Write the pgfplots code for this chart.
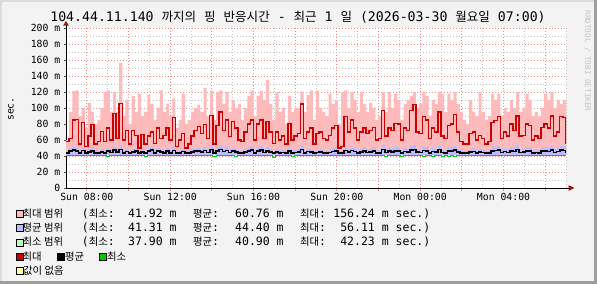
\documentclass[border=0pt]{standalone}
\usepackage{fontspec}
\setmainfont{DejaVu Sans Mono}
\newfontfamily\kr[Scale=0.9]{Noto Sans CJK KR}
\newfontfamily\krt[Scale=0.95]{Noto Sans CJK KR}
\usepackage{pgfplots}
\pgfplotsset{compat=1.18}
\usepackage{pgfplotstable}
\definecolor{bgc}{HTML}{F3F3F3}
\definecolor{shadea}{HTML}{DCDCDC}
\definecolor{shadeb}{HTML}{9E9E9E}
\definecolor{gridred}{HTML}{F08C8C}
\definecolor{gridgrey}{HTML}{C4C4C4}
\definecolor{pinkc}{HTML}{FFBBBB}
\definecolor{bluec}{HTML}{BBBBFF}
\definecolor{greenc}{HTML}{BBFFBB}
\definecolor{redl}{HTML}{CC0000}
\definecolor{greenl}{HTML}{00CC00}
\definecolor{yelc}{HTML}{FFFFA0}
\definecolor{arrowred}{HTML}{901818}
\definecolor{credit}{HTML}{C4C4C4}

\pgfplotstableread{
h pink red blue black green
0.00 60 58 46 43.5 40.9
0.15 95 62 50 46 40.9
0.30 121 85 52 47.5 40.9
0.45 122 86 50 46 40.9
0.60 90 55 47 44 40.9
0.75 100 82 51 47 40.9
0.90 75 52 47 44 40.9
1.05 106 65 49 45 40.9
1.20 95 79 51 46.5 40.9
1.35 80 55 47 44 40.9
1.50 85 58 46 43.5 40.9
1.65 100 71 49 45 40.9
1.80 120 58 47 44 40.9
1.95 122 75 50 46 40.0
2.10 95 60 48 44.5 40.9
2.25 120 93 52 47.5 40.9
2.40 95 62 49 45 40.9
2.55 156 106 53 48 40.9
2.70 90 60 47 44 40.9
2.85 110 72 49 45.5 40.9
3.00 80 55 46 43.5 40.9
3.15 115 72 49 45 40.9
3.30 95 66 50 46 40.9
3.45 118 50 46 43.5 40.9
3.60 90 67 49 45 40.9
3.75 95 55 47 44 39.8
3.90 116 65 50 46 40.9
4.05 105 70 52 47.5 40.9
4.20 85 56 47 44 40.9
4.35 100 75 50 46 40.9
4.50 122 62 49 45 40.9
4.65 95 66 47 44 40.9
4.80 105 75 50 46 40.9
4.95 90 60 47 44 40.9
5.10 112 88 52 47 40.9
5.25 75 52 46 43.5 40.9
5.40 85 60 47 44 40.9
5.55 118 68 49 45.5 40.9
5.70 80 50 46 43.5 40.9
5.85 85 55 47 44 40.9
6.00 95 65 49 45 40.9
6.15 100 72 50 46 40.9
6.30 104 77 51 46.5 40.9
6.45 95 68 49 45 40.9
6.60 125 79 52 47 40.9
6.75 90 62 48 44.5 40.9
6.90 122 91 54 48 40.9
7.05 85 55 47 44 39.5
7.20 120 78 51 46 40.9
7.35 122 95 54 48 40.9
7.50 105 72 50 45.5 40.9
7.65 120 85 52 47 40.9
7.80 95 64 48 44.5 40.9
7.95 110 83 50 46 40.9
8.10 100 75 49 45 39.5
8.25 105 60 47 44 40.9
8.40 85 58 46 43.5 40.9
8.55 100 70 49 45 40.9
8.70 115 80 51 46.5 40.9
8.85 122 85 53 47.5 40.9
9.00 90 60 47 44 40.9
9.15 115 80 51 46.5 40.9
9.30 121 85 53 47.5 40.9
9.45 110 62 48 44.5 40.9
9.60 135 83 51 46 40.9
9.75 105 70 49 45 40.9
9.90 85 56 46 43.5 38.0
10.05 120 70 49 45 40.9
10.20 95 60 47 44 40.9
10.35 100 65 48 44.5 40.9
10.50 80 55 46 43.5 40.9
10.65 115 81 50 46 40.9
10.80 95 60 47 44 39.8
10.95 100 65 48 44.5 40.9
11.10 100 68 49 45 40.9
11.25 120 105 54 48 40.9
11.40 95 62 47 44 40.9
11.55 116 70 49 45.5 40.9
11.70 122 75 49 45 40.9
11.85 85 55 46 43.5 40.9
12.00 122 68 48 44.5 40.9
12.15 100 70 49 45 40.9
12.30 95 62 47 44 40.9
12.45 90 60 46 43.5 40.9
12.60 118 66 48 44.5 40.9
12.75 105 75 50 45.5 40.9
12.90 110 78 51 46 40.9
13.05 80 50 46 43.5 40.9
13.20 120 52 46 43.5 40.9
13.35 122 89 52 47 40.9
13.50 100 70 49 45 40.9
13.65 120 85 52 47 40.9
13.80 110 75 50 45.5 40.9
13.95 95 60 47 44 40.9
14.10 120 70 49 45 40.9
14.25 105 75 51 46 40.9
14.40 95 68 48 44.5 40.9
14.55 106 72 49 45 40.9
14.70 100 76 51 46 40.9
14.85 85 60 47 44 40.9
15.00 90 62 47 44 40.9
15.15 120 97 54 48 40.9
15.30 95 65 48 44.5 39.8
15.45 120 75 51 46 40.9
15.60 100 72 49 45 40.9
15.75 118 81 52 46.5 40.9
15.90 110 80 51 46 40.9
16.05 85 60 47 44 39.8
16.20 105 75 50 45.5 40.9
16.35 110 72 49 45 40.9
16.50 115 97 53 47.5 40.9
16.65 120 104 54 48 40.9
16.80 100 70 49 45 40.9
16.95 105 68 48 44.5 40.9
17.10 120 89 52 47 39.6
17.25 115 85 51 46.5 40.9
17.40 90 62 47 44 40.9
17.55 110 75 50 45.5 39.8
17.70 105 70 49 45 40.9
17.85 120 95 54 48 40.9
18.00 118 65 48 44.5 39.5
18.15 95 62 47 44 40.9
18.30 118 78 51 46 39.8
18.45 110 80 51 46.5 40.9
18.60 120 92 53 47.5 39.8
18.75 105 70 49 45 40.9
18.90 95 58 47 44 40.9
19.05 85 55 46 43.5 40.9
19.20 80 55 46 43.5 40.9
19.35 110 68 49 45 40.9
19.50 95 70 50 45.5 40.9
19.65 90 60 47 44 40.9
19.80 120 66 49 45 40.9
19.95 95 62 48 44.5 40.9
20.10 85 55 46 43.5 40.9
20.25 90 58 47 44 40.9
20.40 118 82 51 46.5 40.9
20.55 110 84 52 47 40.9
20.70 118 89 53 47.5 40.9
20.85 90 62 48 44.5 40.9
21.00 100 70 50 45.5 40.9
21.15 95 65 48 44.5 40.9
21.30 110 80 51 46.5 40.9
21.45 100 72 50 45.5 40.9
21.60 120 90 54 48 40.9
21.75 95 65 48 44.5 40.9
21.90 100 66 49 45 40.9
22.05 118 80 51 46.5 40.9
22.20 110 78 51 46 40.9
22.35 90 60 47 44 40.9
22.50 95 65 48 44.5 40.9
22.65 90 62 47 44 40.9
22.80 100 76 51 46 40.9
22.95 118 80 51 46.5 40.9
23.10 110 75 50 45.5 40.9
23.25 120 90 53 47.5 40.9
23.40 100 65 48 44.5 40.9
23.55 110 70 50 45.5 40.9
23.70 105 89 53 47.5 40.9
23.85 110 88 52 47 40.9
24.00 80 55 47 44 40.9
}\pingdata

\begin{document}
\begin{tikzpicture}[x=1bp,y=1bp]
\useasboundingbox (0,0) rectangle (597,284);
\fill[bgc] (0,0) rectangle (597,284);
\fill[shadea] (0,282) rectangle (597,284);
\fill[shadea] (0,0) rectangle (2,284);
\fill[shadeb] (0,0) rectangle (597,3);
\fill[shadeb] (594,0) rectangle (597,284);

\begin{axis}[
  at={(66bp,96bp)}, anchor=south west,
  scale only axis, width=500bp, height=160bp,
  xmin=0, xmax=24, ymin=0, ymax=200,
  axis background/.style={fill=white},
  axis lines*=left,
  axis line style={black, line width=0.9bp},
  xtick={1,3,...,23},
  xticklabels={Sun 08:00,,Sun 12:00,,Sun 16:00,,Sun 20:00,,Mon 00:00,,Mon 04:00,},
  minor xtick={2,4,...,24},
  ytick={0,20,...,200},
  yticklabels={0,20 m,40 m,60 m,80 m,100 m,120 m,140 m,160 m,180 m,200 m},
  minor ytick={10,30,...,190},
  grid=both,
  major grid style={draw=gridred, line width=0.8bp, dash pattern=on 1bp off 2bp},
  minor grid style={draw=gridgrey, line width=0.8bp, dash pattern=on 1bp off 2bp},
  tick align=outside,
  major tick length=2.5bp, minor tick length=0pt,
  x tick style={draw=gridred, line width=0.8bp},
  y tick style={draw=black!70, line width=0.8bp},
  tick label style={font=\fontsize{9.8bp}{10bp}\selectfont, inner sep=0pt},
  xticklabel style={anchor=north, yshift=-2.5bp},
  yticklabel style={anchor=east, xshift=-3bp},
  clip=true,
]
\addplot[const plot, fill=pinkc, draw=none] table[x=h, y=pink] {\pingdata} |- (axis cs:0,42) -- cycle;
\addplot[const plot, fill=bluec, draw=none] table[x=h, y=blue] {\pingdata} |- (axis cs:0,41.4) -- cycle;
\addplot[const plot, draw=redl, line width=1.35bp] table[x=h, y=red] {\pingdata};
\addplot[const plot, draw=black, line width=1.5bp] table[x=h, y=black] {\pingdata};
\addplot[const plot, draw=greenl, line width=1bp] table[x=h, y=green] {\pingdata};
\end{axis}

% axis arrows
\draw[black, line width=0.9bp] (66,255) -- (66,259);
\draw[black, line width=0.9bp] (565,96) -- (569,96);
\fill[arrowred] (63.2,258.5) -- (68.8,258.5) -- (66,263) -- cycle;
\fill[arrowred] (568.5,93.2) -- (568.5,98.8) -- (574.5,96) -- cycle;

% title
\node[anchor=base, inner sep=0pt, text depth=0pt] at (298,263) {\fontsize{13.2bp}{14bp}\selectfont 104.44.11.140 {\krt 까지의} {\krt 핑} {\krt 반응시간} - {\krt 최근} 1 {\krt 일} (2026-03-30 {\krt 월요일} 07:00)};

% y label
\node[rotate=90, inner sep=0pt, anchor=center] at (11,175) {\fontsize{9.8bp}{10bp}\selectfont sec.};

% credit
\node[rotate=-90, inner sep=0pt, anchor=center, text=credit] at (587.5,223) {\fontsize{7.6bp}{8bp}\selectfont RRDTOOL / TOBI OETIKER};

% legend
\begin{scope}[every node/.style={inner sep=0pt, font=\fontsize{11.5bp}{12bp}\selectfont}]
\foreach \yb/\col/\lab/\mn/\av/\mx in {66.7/pinkc/최대 범위/41.92 m/60.76 m/156.24 m sec.),
                                       52.4/bluec/평균 범위/41.31 m/44.40 m/56.11 m sec.),
                                       38.1/greenc/최소 범위/37.90 m/40.90 m/42.23 m sec.)} {
  \filldraw[fill=\col, draw=black, line width=0.8bp] (16,\yb) rectangle (23,\yb+7);
  \node[anchor=base west] at (22.5,\yb) {{\kr \lab}};
  \node[anchor=base west] at (81.7,\yb) {({\kr 최소}:};
  \node[anchor=base west] at (128,\yb) {\mn};
  \node[anchor=base west] at (193,\yb) {{\kr 평균}:};
  \node[anchor=base west] at (235,\yb) {\av};
  \node[anchor=base west] at (300,\yb) {{\kr 최대}:};
  \node[anchor=base east] at (430.5,\yb) {\mx};
}
\filldraw[fill=redl, draw=black, line width=0.8bp] (16,23.8) rectangle (23,30.8);
\node[anchor=base west] at (22.5,23.8) {{\kr 최대}};
\filldraw[fill=black, draw=black, line width=0.8bp] (57.5,23.8) rectangle (64.5,30.8);
\node[anchor=base west] at (65,23.8) {{\kr 평균}};
\filldraw[fill=greenl, draw=black, line width=0.8bp] (99.5,23.8) rectangle (106.5,30.8);
\node[anchor=base west] at (107,23.8) {{\kr 최소}};
\filldraw[fill=yelc, draw=black, line width=0.8bp] (16,9.5) rectangle (23,16.5);
\node[anchor=base west] at (23,9.5) {{\kr 값이 없음}};
\end{scope}
\end{tikzpicture}
\end{document}
